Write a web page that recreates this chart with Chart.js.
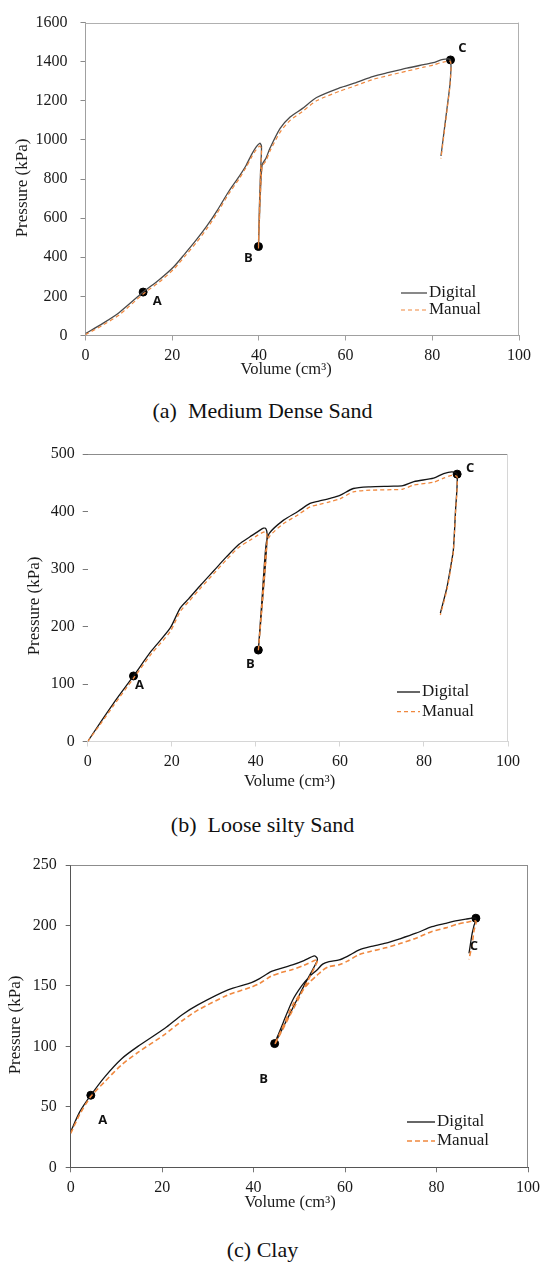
<!DOCTYPE html>
<html><head><meta charset="utf-8">
<script src="https://cdn.jsdelivr.net/npm/chart.js@4.4.1/dist/chart.umd.min.js"></script>
<style>
html,body{margin:0;padding:0;background:#fff;}
body{width:549px;height:1263px;position:relative;overflow:hidden;font-family:'Liberation Serif','Times New Roman',serif;}
canvas{position:absolute;left:0;}
.cap{position:absolute;left:-12px;width:549px;text-align:center;font-size:22px;color:#111;line-height:24px;white-space:pre;}
</style></head><body>
<canvas id="ca" width="549" height="390" style="top:0px"></canvas>
<canvas id="cb" width="549" height="380" style="top:430px"></canvas>
<canvas id="cc" width="549" height="380" style="top:845px"></canvas>
<div class="cap" style="top:399px;">(a)  Medium Dense Sand</div>
<div class="cap" style="top:813px;">(b)  Loose silty Sand</div>
<div class="cap" style="top:1238px;">(c) Clay</div>
<script>
// ---------- DATA ----------
const seriesNames = ['Digital', 'Manual'];
const pointNames = ['A', 'B', 'C'];
const xTicks = [0, 20, 40, 60, 80, 100];
const aYTicks = [0, 200, 400, 600, 800, 1000, 1200, 1400, 1600];
const bYTicks = [0, 100, 200, 300, 400, 500];
const cYTicks = [0, 50, 100, 150, 200, 250];

// (a) Medium Dense Sand
const aVol = [0, 4, 7.8, 13.3, 17, 20.3, 23, 25.6, 28, 30.4, 33, 35.5, 37, 38.3, 39.3, 40.2, 40.6, 40.4, 40.1, 39.9, 40.2, 40.5, 40.8, 41.6, 42.6, 44.9, 47.2, 50, 53.3, 58.7, 62, 66.4, 70, 74.1, 78, 80.2, 82.5, 84.2, 84.1, 83.5, 82.9, 82.0];
const aDigital = [10, 62, 118, 222, 285, 350, 420, 490, 560, 640, 735, 815, 868, 925, 962, 983, 968, 850, 650, 455, 650, 800, 876, 905, 960, 1059, 1117, 1160, 1217, 1267, 1290, 1325, 1345, 1367, 1385, 1395, 1412, 1409, 1292, 1180, 1076, 918];
const aManual = [4, 53, 106, 212, 273, 338, 407, 476, 546, 627, 723, 803, 858, 912, 948, 968, 955, 840, 640, 445, 640, 790, 866, 892, 945, 1040, 1100, 1145, 1200, 1250, 1275, 1310, 1330, 1352, 1372, 1383, 1398, 1400, 1285, 1170, 1065, 905];
const aPointVol = [13.3, 39.9, 84.2];
const aPointP = [222, 455, 1409];

// (b) Loose silty Sand
const bVol = [0, 3, 6.1, 10.9, 15.1, 19.6, 22, 24, 27, 30, 33, 36, 38.6, 40.5, 41.8, 42.4, 42.7, 42.2, 41.4, 40.6, 41.5, 42.4, 43.2, 46.6, 50, 52.9, 55, 57.7, 60, 63.2, 67.2, 72.8, 75, 77.6, 82.3, 84.7, 86.7, 87.9, 87.5, 87, 86.5, 85.5, 83.9];
const bDigital = [0, 33, 66, 114, 157, 197, 232, 248, 273, 297, 321, 343, 356, 365, 371, 370, 360, 300, 230, 159, 250, 340, 362, 385, 400, 414, 418, 423, 428, 440, 443, 444, 445, 452, 458, 466, 469, 465, 400, 333, 310, 269, 223];
const bManual = [0, 30, 62, 110, 152, 191, 226, 243, 268, 292, 316, 338, 350, 359, 364, 364, 355, 296, 226, 157, 245, 333, 356, 379, 394, 408, 412, 417, 422, 434, 437, 438, 439, 446, 451, 458, 463, 460, 396, 330, 306, 265, 220];
const bPointVol = [10.9, 40.6, 87.9];
const bPointP = [114, 159, 465];

// (c) Clay
const cVol = [0, 2, 4.4, 7.5, 11.2, 14.7, 20.6, 24.3, 27.8, 34.4, 39.5, 41.3, 43.8, 46, 48.5, 51, 53.3, 53.9, 53.8, 51, 48, 44.6, 46.5, 48.5, 50.5, 52.2, 53.8, 55.1, 56.5, 58.7, 60.5, 63.1, 65.5, 68.9, 72, 75.5, 79, 82, 84.5, 86.4, 88.6, 88.2, 87.8, 87.1];
const cDigital = [29.5, 46, 59.6, 75, 90, 100, 115, 126, 134.3, 146.7, 152.7, 156, 161.8, 164.5, 167.4, 171, 174.8, 173, 170, 150, 127.5, 102, 120, 138, 150, 157.7, 163, 168, 170, 171.5, 174.5, 179.8, 182.5, 185.3, 189, 193.6, 199, 201.8, 204, 205.2, 206, 200, 193.6, 177];
const cManual = [28, 44, 58.5, 71, 85, 95, 110, 121, 130, 142.5, 149, 152, 158, 161, 163.5, 167, 171, 172, 169, 148, 126, 101.5, 117, 134, 145, 153, 158.5, 163, 166, 167.5, 170.5, 176, 178.5, 181.5, 185, 189.5, 195, 198, 201, 202.5, 203.5, 196, 185, 172];
const cPointVol = [4.4, 44.6, 88.6];
const cPointP = [59.6, 102.3, 206];

// ---------- DRAWING ----------
Chart.defaults.font.family = "'Liberation Serif', 'Times New Roman', serif";
Chart.defaults.color = '#1a1a1a';
const ORANGE = '#F0883E';

function pts(xs, ys) { return xs.map((x, i) => ({ x: x, y: ys[i] })); }

function makeChart(id, s) {
  const overlay = {
    id: 'overlay_' + id,
    afterDraw(chart) {
      const ctx = chart.ctx, ca = chart.chartArea;
      const xs = chart.scales.x, ys = chart.scales.y;
      ctx.save();
      ctx.lineWidth = 1;
      if (s.topColor) {
        ctx.strokeStyle = s.topColor;
        ctx.beginPath(); ctx.moveTo(ca.left, Math.round(ca.top) + 0.5); ctx.lineTo(ca.right, Math.round(ca.top) + 0.5); ctx.stroke();
      }
      if (s.rightColor) {
        ctx.strokeStyle = s.rightColor;
        ctx.beginPath(); ctx.moveTo(Math.round(ca.right) - 0.5, ca.top); ctx.lineTo(Math.round(ca.right) - 0.5, ca.bottom); ctx.stroke();
      }
      ctx.fillStyle = '#1a1a1a';
      ctx.textAlign = 'center'; ctx.textBaseline = 'middle';
      ctx.font = "16.5px 'Liberation Serif'";
      ctx.fillText('Volume (cm³)', s.xTitle[0], s.xTitle[1]);
      ctx.save();
      ctx.font = "17px 'Liberation Serif'";
      ctx.translate(s.yTitle[0], s.yTitle[1]); ctx.rotate(-Math.PI / 2);
      ctx.fillText('Pressure (kPa)', 0, 0);
      ctx.restore();
      ctx.font = "bold 13px 'Open Sans'";
      ctx.fillStyle = '#111';
      pointNames.forEach((n, i) => {
        const px = xs.getPixelForValue(s.pVol[i]) + s.offs[i][0];
        const py = ys.getPixelForValue(s.pP[i]) + s.offs[i][1];
        ctx.fillText(n, px, py);
      });
      const L = s.legend;
      ctx.lineWidth = 1.3;
      ctx.strokeStyle = s.digitalColor; ctx.setLineDash([]);
      ctx.beginPath(); ctx.moveTo(L.x0, L.y0); ctx.lineTo(L.x1, L.y0); ctx.stroke();
      ctx.lineWidth = s.manualW;
      ctx.strokeStyle = ORANGE; ctx.setLineDash(s.dash);
      ctx.beginPath(); ctx.moveTo(L.x0, L.y1); ctx.lineTo(L.x1, L.y1); ctx.stroke();
      ctx.setLineDash([]);
      ctx.font = "17px 'Liberation Serif'";
      ctx.fillStyle = '#1a1a1a';
      ctx.textAlign = 'left';
      ctx.fillText(seriesNames[0], L.tx, L.y0);
      ctx.fillText(seriesNames[1], L.tx, L.y1);
      ctx.restore();
    }
  };
  const yTickVals = s.yTicks;
  return new Chart(document.getElementById(id), {
    type: 'line',
    data: {
      datasets: [
        { label: seriesNames[1], data: pts(s.vol, s.manual), borderColor: ORANGE, borderWidth: s.manualW, borderDash: s.dash, pointRadius: 0, tension: 0.25, fill: false },
        { label: seriesNames[0], data: pts(s.vol, s.digital), borderColor: s.digitalColor, borderWidth: 1.3, pointRadius: 0, tension: 0.25, fill: false },
        { type: 'scatter', label: 'points', data: pts(s.pVol, s.pP), pointRadius: 4, pointBackgroundColor: '#000', pointBorderColor: '#000', showLine: false }
      ]
    },
    options: {
      responsive: false, animation: false, maintainAspectRatio: false,
      layout: { padding: { top: s.padTop, right: s.padRight, left: 0, bottom: 0 } },
      plugins: { legend: { display: false }, tooltip: { enabled: false } },
      scales: {
        x: {
          type: 'linear', min: 0, max: 100,
          afterBuildTicks: sc => { sc.ticks = xTicks.map(v => ({ value: v })); },
          afterFit: sc => { sc.height = s.xH; },
          ticks: { font: { size: 16 }, padding: 6, color: '#1a1a1a', maxRotation: 0, autoSkip: false, callback: v => String(v) },
          grid: { drawOnChartArea: false, drawTicks: true, tickLength: 5, color: s.xTickColor, tickColor: s.xTickColor },
          border: { display: true, color: s.xBorder, width: 1 }
        },
        y: {
          type: 'linear', min: yTickVals[0], max: yTickVals[yTickVals.length - 1],
          afterBuildTicks: sc => { sc.ticks = yTickVals.map(v => ({ value: v })); },
          afterFit: sc => { sc.width = s.yW; },
          ticks: { font: { size: 16 }, padding: s.yPad, color: '#1a1a1a', autoSkip: false, callback: v => String(v) },
          grid: {
            drawOnChartArea: !!s.topGrid, drawTicks: true, tickLength: 5,
            color: ctx => (s.topGrid && ctx.tick && ctx.tick.value === yTickVals[yTickVals.length - 1]) ? s.topGrid : (s.topGrid ? 'rgba(0,0,0,0)' : s.yTickColor),
            tickColor: s.yTickColor
          },
          border: { display: s.yBorder !== null, color: s.yBorder || '#000', width: 1 }
        }
      }
    },
    plugins: [overlay]
  });
}

makeChart('ca', {
  vol: aVol, digital: aDigital, manual: aManual, pVol: aPointVol, pP: aPointP, yTicks: aYTicks,
  digitalColor: '#4a4a4a', manualW: 1.2, dash: [4, 3], padTop: 15, padRight: 30, xH: 54.5, yW: 85.5, yPad: 13,
  xBorder: '#a0a0a0', xTickColor: '#a0a0a0', yBorder: '#a0a0a0', yTickColor: '#8a8a8a',
  topColor: '#b0b0b0', rightColor: '#b0b0b0', topGrid: null,
  xTitle: [286, 370], yTitle: [22.7, 188],
  offs: [[14, 9], [-10, 12], [12, -12]],
  legend: { x0: 401, x1: 427, y0: 293, y1: 310, tx: 429 }
});
makeChart('cb', {
  vol: bVol, digital: bDigital, manual: bManual, pVol: bPointVol, pP: bPointP, yTicks: bYTicks,
  digitalColor: '#151515', manualW: 1.3, dash: [4, 3], padTop: 24, padRight: 41, xH: 68.5, yW: 87.7, yPad: 8,
  xBorder: '#d6d6d6', xTickColor: '#d6d6d6', yBorder: null, yTickColor: '#7a7a7a',
  topColor: null, rightColor: '#d6d6d6', topGrid: '#8c8c8c',
  xTitle: [289.5, 351.7], yTitle: [35, 176],
  offs: [[6, 9], [-8, 14], [13, -6]],
  legend: { x0: 397, x1: 420, y0: 262, y1: 281.7, tx: 422 }
});
makeChart('cc', {
  vol: cVol, digital: cDigital, manual: cManual, pVol: cPointVol, pP: cPointP, yTicks: cYTicks,
  digitalColor: '#151515', manualW: 1.6, dash: [5, 3], padTop: 20, padRight: 21, xH: 57.7, yW: 70.7, yPad: 9,
  xBorder: '#555555', xTickColor: '#777777', yBorder: '#555555', yTickColor: '#666666',
  topColor: '#8c8c8c', rightColor: '#8c8c8c', topGrid: null,
  xTitle: [290, 358], yTitle: [15.7, 180],
  offs: [[12, 25], [-11, 36], [-2, 28]],
  legend: { x0: 407, x1: 435, y0: 277, y1: 296, tx: 437 }
});
</script>
</body></html>
